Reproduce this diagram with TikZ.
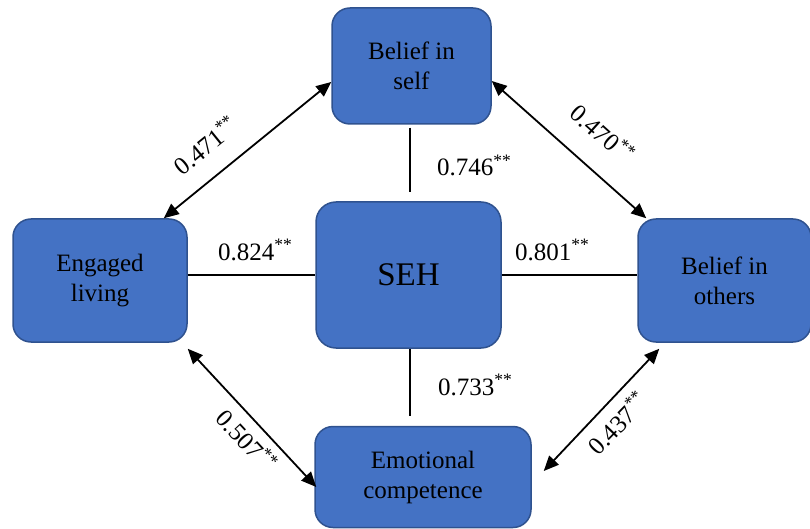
\documentclass[tikz,border=0pt]{standalone}
\usepackage{fontspec}
\setmainfont{Liberation Serif}
\usetikzlibrary{arrows.meta}
\definecolor{boxfill}{HTML}{4472C4}
\definecolor{boxline}{HTML}{2F528F}
\begin{document}
\begin{tikzpicture}[x=1pt,y=-1pt,
  box/.style={draw=boxline, fill=boxfill, line width=1.5pt, rounded corners=18pt,
    align=center, inner sep=0pt, font=\fontsize{25}{30}\selectfont, text=black},
  conn/.style={line width=1.8pt, black},
  biarrow/.style={line width=1.8pt, black, {Triangle[length=15pt,width=13pt]}-{Triangle[length=15pt,width=13pt]}},
  lbl/.style={font=\fontsize{25}{30}\selectfont, inner sep=0pt}]
\useasboundingbox (0,0) rectangle (810,529);
\node[box, minimum width=159pt, minimum height=116pt] (bis) at (411.5,66) {Belief in\\self};
\node[box, minimum width=185pt, minimum height=146pt, rounded corners=20pt, font=\fontsize{33}{38}\selectfont] (seh) at (408.5,275) {SEH};
\node[box, minimum width=174pt, minimum height=123pt] (eng) at (100,280.5) {Engaged\\living};
\node[box, minimum width=173pt, minimum height=123pt] (bio) at (724.5,280.5) {Belief in\\others};
\node[box, minimum width=216pt, minimum height=101pt] (emo) at (423,477) {Emotional\\competence};
% lines to SEH
\draw[conn, shorten <=3pt, shorten >=9pt] ([xshift=1.5pt]seh.north |- bis.south) -- ([xshift=1.5pt]seh.north);
\draw[conn, shorten <=0pt, shorten >=10pt] ([xshift=1.5pt]seh.south) -- ([xshift=1.5pt]seh.south |- emo.north);
\draw[conn] (eng.east |- seh.center) -- (seh.west |- seh.center);
\draw[conn] (seh.east |- seh.center) -- (bio.west |- seh.center);
% double arrows
\draw[biarrow] ([yshift=-16pt]bis.west) -- ([xshift=-24pt]eng.north east);
\draw[biarrow] ([yshift=-15pt]bis.east) -- ([xshift=9pt]bio.north west);
\draw[biarrow] ([yshift=-6pt]eng.south east) -- ([xshift=2pt,yshift=-10pt]emo.west);
\draw[biarrow] ([xshift=22pt,yshift=-6pt]bio.south west) -- ([xshift=12pt,yshift=6pt]emo.east);
% labels
\node[lbl, anchor=base west] (l1) at (437,176) {0.746\textsuperscript{**}};
\node[lbl, anchor=base west] (l2) at (218,260) {0.824\textsuperscript{**}};
\node[lbl, anchor=base west] (l3) at (515,260) {0.801\textsuperscript{**}};
\node[lbl, anchor=base west] (l4) at (438,395) {0.733\textsuperscript{**}};
\node[lbl, rotate=39] (l5) at (205,145) {0.471\textsuperscript{**}};
\node[lbl, rotate=-42] (l6) at (603,133) {0.470\textsuperscript{**}};
\node[lbl, rotate=-47] (l7) at (247,440) {0.507\textsuperscript{**}};
\node[lbl, rotate=46] (l8) at (617,423) {0.437\textsuperscript{**}};
\end{tikzpicture}
\end{document}
